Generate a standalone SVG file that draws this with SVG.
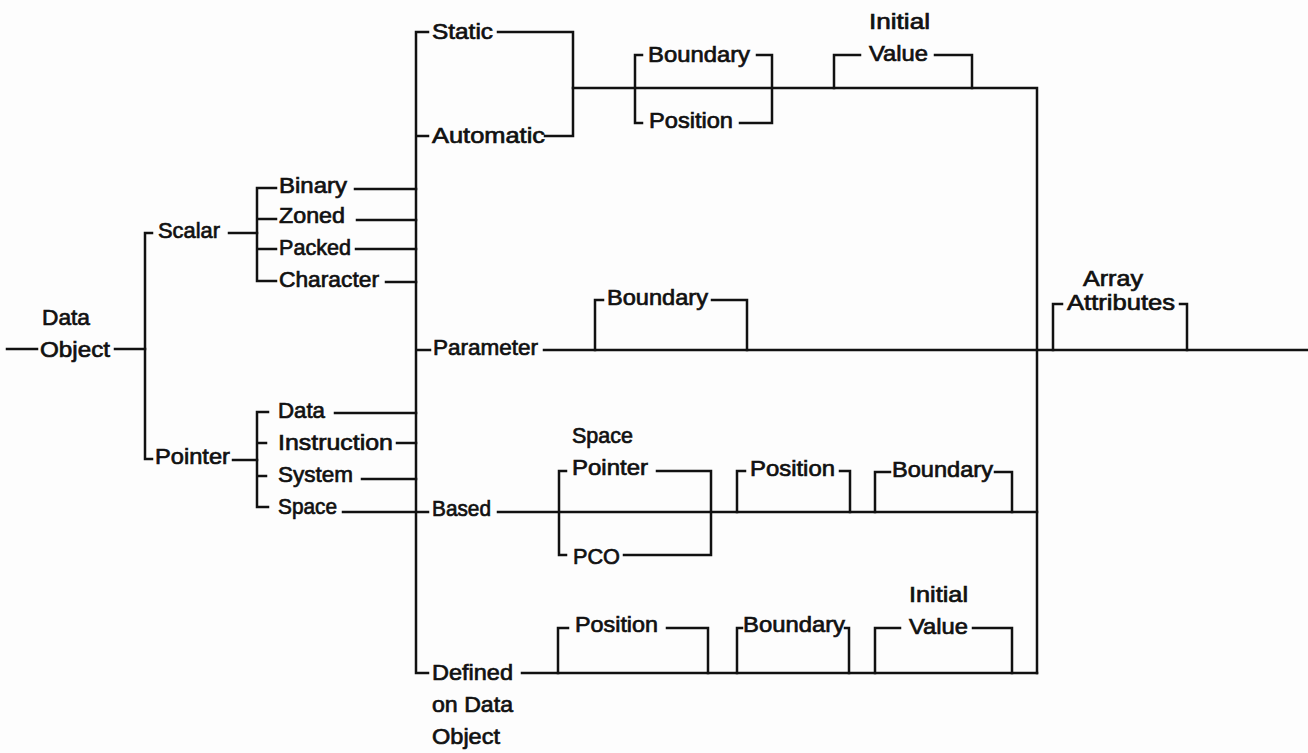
<svg xmlns="http://www.w3.org/2000/svg" width="1308" height="753" viewBox="0 0 1308 753">
<style>
text{font-family:"Liberation Sans",Arial,Helvetica,sans-serif;font-size:22.5px;fill:#111;stroke:#111;stroke-width:0.7px;}
.c path{fill:none;stroke:#111;stroke-width:2.5;stroke-linecap:square;stroke-linejoin:miter;}
</style>
<rect x="0" y="0" width="1308" height="753" fill="#fdfdfd"/>
<g class="c" id="connectors">
<path d="M7,349 H37 M115,349 H145"/>
<path d="M152,233 H145 V459 H152"/>
<path d="M229,233 H257"/>
<path d="M276,188 H257 V281 H276 M257,219 H276 M257,249 H276"/>
<path d="M355,189 H416 M357,220 H416 M356,249 H416 M386,282 H416"/>
<path d="M233,460 H257"/>
<path d="M268,412 H257 V507 H268 M257,443 H266 M257,476 H266"/>
<path d="M335,413 H416 M397,443 H416 M362,479 H416 M343,512 H428"/>
<path d="M428,32 H416 V673 H428 M416,136 H428 M416,350 H430"/>
<path d="M498,32 H573 V136 H545"/>
<path d="M573,88 H1037 V673"/>
<path d="M642,55 H635 V123 H642 M757,55 H772 V123 H740"/>
<path d="M834,88 V55 H860 M935,55 H972 V88"/>
<path d="M544,350 H1308"/>
<path d="M595,350 V300 H603 M712,300 H747 V350"/>
<path d="M1053,350 V304 H1062 M1180,304 H1187 V350"/>
<path d="M498,512 H1037"/>
<path d="M566,471 H559 V555 H566 M657,471 H711 V555 H624"/>
<path d="M737,512 V471 H745 M840,471 H850 V512"/>
<path d="M875,512 V472 H890 M995,472 H1012 V512"/>
<path d="M522,673 H1037"/>
<path d="M558,673 V628 H568 M667,628 H708 V673"/>
<path d="M737,673 V628 H742 M845,628 H849 V673"/>
<path d="M875,673 V628 H900 M973,628 H1012 V673"/>
</g>
<g id="node-data-object"><text x="42" y="325" textLength="48" lengthAdjust="spacingAndGlyphs">Data</text><text x="40" y="357" textLength="70" lengthAdjust="spacingAndGlyphs">Object</text></g>
<g id="node-scalar"><text x="158" y="238" textLength="62" lengthAdjust="spacingAndGlyphs">Scalar</text></g>
<g id="node-binary"><text x="279" y="193" textLength="68" lengthAdjust="spacingAndGlyphs">Binary</text></g>
<g id="node-zoned"><text x="279" y="223" textLength="66" lengthAdjust="spacingAndGlyphs">Zoned</text></g>
<g id="node-packed"><text x="279" y="255" textLength="72" lengthAdjust="spacingAndGlyphs">Packed</text></g>
<g id="node-character"><text x="279" y="287" textLength="100" lengthAdjust="spacingAndGlyphs">Character</text></g>
<g id="node-pointer"><text x="155" y="464" textLength="75" lengthAdjust="spacingAndGlyphs">Pointer</text></g>
<g id="node-ptr-data"><text x="278" y="418" textLength="47" lengthAdjust="spacingAndGlyphs">Data</text></g>
<g id="node-instruction"><text x="278" y="450" textLength="115" lengthAdjust="spacingAndGlyphs">Instruction</text></g>
<g id="node-system"><text x="278" y="482" textLength="75" lengthAdjust="spacingAndGlyphs">System</text></g>
<g id="node-space"><text x="278" y="514" textLength="59" lengthAdjust="spacingAndGlyphs">Space</text></g>
<g id="node-static"><text x="432" y="39" textLength="61" lengthAdjust="spacingAndGlyphs">Static</text></g>
<g id="node-automatic"><text x="432" y="143" textLength="113" lengthAdjust="spacingAndGlyphs">Automatic</text></g>
<g id="node-boundary-1"><text x="648" y="62" textLength="102" lengthAdjust="spacingAndGlyphs">Boundary</text></g>
<g id="node-position-1"><text x="649" y="128" textLength="84" lengthAdjust="spacingAndGlyphs">Position</text></g>
<g id="node-initial-value-1"><text x="869" y="29" textLength="61" lengthAdjust="spacingAndGlyphs">Initial</text><text x="869" y="61" textLength="59" lengthAdjust="spacingAndGlyphs">Value</text></g>
<g id="node-parameter"><text x="433" y="355" textLength="105" lengthAdjust="spacingAndGlyphs">Parameter</text></g>
<g id="node-boundary-2"><text x="607" y="305" textLength="101" lengthAdjust="spacingAndGlyphs">Boundary</text></g>
<g id="node-array-attributes"><text x="1083" y="286" textLength="60" lengthAdjust="spacingAndGlyphs">Array</text><text x="1067" y="310" textLength="108" lengthAdjust="spacingAndGlyphs">Attributes</text></g>
<g id="node-based"><text x="432" y="516" textLength="59" lengthAdjust="spacingAndGlyphs">Based</text></g>
<g id="node-space-pointer"><text x="572" y="443" textLength="61" lengthAdjust="spacingAndGlyphs">Space</text><text x="572" y="475" textLength="76" lengthAdjust="spacingAndGlyphs">Pointer</text></g>
<g id="node-pco"><text x="573" y="564" textLength="47" lengthAdjust="spacingAndGlyphs">PCO</text></g>
<g id="node-position-2"><text x="750" y="476" textLength="85" lengthAdjust="spacingAndGlyphs">Position</text></g>
<g id="node-boundary-3"><text x="892" y="477" textLength="101" lengthAdjust="spacingAndGlyphs">Boundary</text></g>
<g id="node-defined"><text x="432" y="680" textLength="81" lengthAdjust="spacingAndGlyphs">Defined</text><text x="432" y="712" textLength="81" lengthAdjust="spacingAndGlyphs">on Data</text><text x="432" y="744" textLength="68" lengthAdjust="spacingAndGlyphs">Object</text></g>
<g id="node-position-3"><text x="575" y="632" textLength="83" lengthAdjust="spacingAndGlyphs">Position</text></g>
<g id="node-boundary-4"><text x="743" y="632" textLength="102" lengthAdjust="spacingAndGlyphs">Boundary</text></g>
<g id="node-initial-value-2"><text x="909" y="602" textLength="59" lengthAdjust="spacingAndGlyphs">Initial</text><text x="909" y="634" textLength="59" lengthAdjust="spacingAndGlyphs">Value</text></g>
</svg>
